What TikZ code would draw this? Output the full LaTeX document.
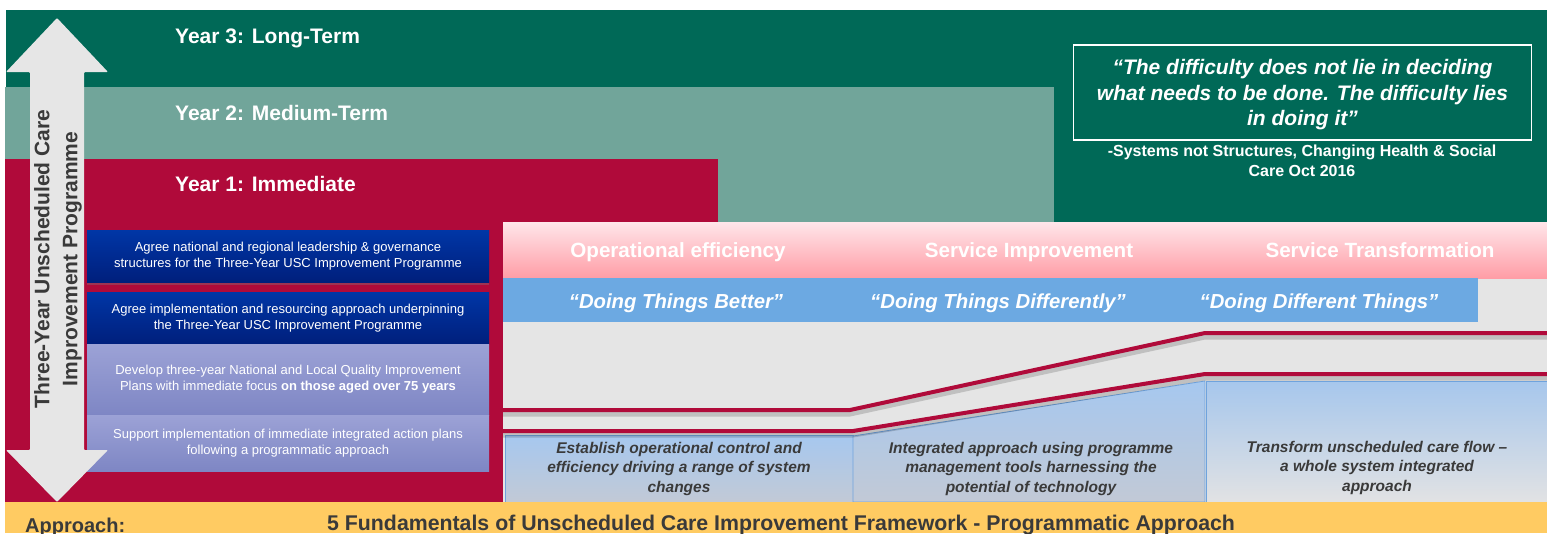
\documentclass[tikz,border=0pt]{standalone}
\usepackage{fontspec}
\setmainfont{Liberation Sans}
\usetikzlibrary{shadows}

\definecolor{longgreen}{HTML}{006957}
\definecolor{midgreen}{HTML}{71A59A}
\definecolor{nearred}{HTML}{B00A3A}
\definecolor{pinktop}{HTML}{FFE6EA}
\definecolor{pinkbot}{HTML}{FF9DA6}
\definecolor{mottoblue}{HTML}{6CA9E2}
\definecolor{panelgray}{HTML}{E5E5E5}
\definecolor{arrowgray}{HTML}{E6E6E6}
\definecolor{darkblue1}{HTML}{0036A6}
\definecolor{darkblue2}{HTML}{001F7C}
\definecolor{lilac1}{HTML}{9CA2D6}
\definecolor{lilac2}{HTML}{7E86C4}
\definecolor{flowtop}{HTML}{A6C8EF}
\definecolor{flowmid}{HTML}{A8BAD3}
\definecolor{flowbot}{HTML}{C2C9D6}
\definecolor{flowedge}{HTML}{6FA3DD}
\definecolor{approachyellow}{HTML}{FFCB62}
\definecolor{inkgray}{HTML}{3A3A3A}

\tikzset{
  yearlabel/.style={anchor=base west, inner sep=0, text=white,
    font=\fontsize{21}{25}\selectfont\bfseries},
  phaselabel/.style={anchor=base, inner sep=0, text=white,
    font=\fontsize{20.6}{24}\selectfont\bfseries},
  mottolabel/.style={anchor=base, inner sep=0, text=white,
    font=\fontsize{20.3}{24}\selectfont\bfseries\itshape},
  actionbox/.style={minimum width=402pt, inner sep=0, align=center, text=white,
    font=\fontsize{13}{16}\selectfont},
  flowbox/.style={draw=flowedge, line width=0.8pt},
  flowtext/.style={anchor=north, inner sep=0, align=center, text=inkgray,
    font=\fontsize{15.5}{19.5}\selectfont\bfseries\itshape},
  redline/.style={line width=4pt, nearred},
  redshadow/.style={line width=5pt, black, opacity=0.16},
}

\begin{document}
\begin{tikzpicture}[x=1pt, y=-1pt]
  \useasboundingbox (0,0) rectangle (1547,533);

  % year bands
  \fill[longgreen] (6,10) rectangle (1547,222);
  \fill[midgreen] (5,87) rectangle (1054,222);
  \fill[nearred] (5,159) rectangle (718,502);

  % right panel: phases and mottos
  \fill[panelgray] (503,278) rectangle (1547,502);
  \shade[top color=pinktop, bottom color=pinkbot] (503,222) rectangle (1547,278);
  \fill[mottoblue] (503,278) rectangle (1478,322);

  % fundamentals boxes
  \shade[flowbox, top color=flowtop, middle color=flowmid, bottom color=flowbot]
    (505,435) rectangle (853,502);
  \shade[flowbox, top color=flowtop, middle color=flowmid, bottom color=flowbot]
    (853,436) -- (1205,381) -- (1205,502) -- (853,502) -- cycle;
  \shade[flowbox, top color=flowtop!90!flowmid, middle color=flowmid, bottom color=panelgray!90!flowbot]
    (1206,381) rectangle (1547,502);

  % rising steps
  \draw[redshadow] (503,414) -- (850,414) -- (1205,337) -- (1547,337);
  \draw[redshadow] (503,435) -- (853,435) -- (1205,378) -- (1547,378);
  \draw[redline] (503,410) -- (850,410) -- (1205,333) -- (1547,333);
  \draw[redline] (503,431) -- (853,431) -- (1205,374) -- (1547,374);

  % approach strip
  \fill[approachyellow] (5,502) rectangle (1547,533);

  % immediate actions
  \node[actionbox, minimum height=52pt, top color=darkblue1, bottom color=darkblue2,
    drop shadow={shadow xshift=0pt, shadow yshift=-3pt, opacity=0.35}] (governance) at (288,256)
    {Agree national and regional leadership \& governance\\structures for the Three-Year USC Improvement Programme};
  \node[actionbox, minimum height=52pt, top color=darkblue1, bottom color=darkblue2] (resourcing) at (288,318)
    {Agree implementation and resourcing approach underpinning\\the Three-Year USC Improvement Programme};
  \node[actionbox, minimum height=71pt, top color=lilac1, bottom color=lilac2] (qiplans) at (288,379.5)
    {Develop three-year National and Local Quality Improvement\\Plans with immediate focus \textbf{on those aged over 75 years}};
  \node[actionbox, minimum height=56pt, top color=lilac1, bottom color=lilac2] (actionplans) at (288,443)
    {Support implementation of immediate integrated action plans\\following a programmatic approach};

  % two-way programme arrow
  \fill[arrowgray, rounded corners=1pt] (57,18) -- (108,72) -- (84,72) -- (84,450)
    -- (108,450) -- (57,502) -- (6,450) -- (30,450) -- (30,72) -- (6,72) -- cycle;
  \node[rotate=90, align=center, inner sep=0, text=inkgray,
    font=\fontsize{21}{28}\selectfont\bfseries] (programme) at (58,259)
    {Three-Year Unscheduled Care\\Improvement Programme};

  % year titles
  \node[yearlabel] (year3) at (175,43) {Year 3: Long-Term};
  \node[yearlabel] (year2) at (175,120) {Year 2: Medium-Term};
  \node[yearlabel] (year1) at (175,191) {Year 1: Immediate};

  % quote
  \node[draw=white, line width=1.2pt, minimum width=458pt, minimum height=95pt, inner sep=0] (quotebox) at (1302.5,92.5) {};
  \node[align=center, inner sep=0, text=white, font=\fontsize{21}{25.5}\selectfont\bfseries\itshape] (quote) at (1302.5,95)
    {“The difficulty does not lie in deciding\\what needs to be done. The difficulty lies\\in doing it”};
  \node[align=center, inner sep=0, text=white, font=\fontsize{16}{20}\selectfont\bfseries] (source) at (1302,161)
    {-Systems not Structures, Changing Health \& Social\\Care Oct 2016};

  % phases
  \node[phaselabel] (efficiency) at (678,257) {Operational efficiency};
  \node[phaselabel] (improvement) at (1029,257) {Service Improvement};
  \node[phaselabel] (transformation) at (1380,257) {Service Transformation};
  \node[mottolabel] (better) at (676,308) {“Doing Things Better”};
  \node[mottolabel] (differently) at (998,308) {“Doing Things Differently”};
  \node[mottolabel] (different) at (1319,308) {“Doing Different Things”};

  % fundamentals
  \node[flowtext] (control) at (679,442)
    {Establish operational control and\\efficiency driving a range of system\\changes};
  \node[flowtext] (integrated) at (1031,442)
    {Integrated approach using programme\\management tools harnessing the\\potential of technology};
  \node[flowtext] (flow) at (1377,441)
    {Transform unscheduled care flow –\\a whole system integrated\\approach};

  \node[anchor=base west, inner sep=0, text=inkgray, font=\fontsize{20}{24}\selectfont\bfseries]
    (approach) at (25,532) {Approach:};
  \node[anchor=base west, inner sep=0, text=inkgray, font=\fontsize{21.3}{25}\selectfont\bfseries]
    (fundamentals) at (327,530) {5 Fundamentals of Unscheduled Care Improvement Framework - Programmatic Approach};
\end{tikzpicture}
\end{document}
